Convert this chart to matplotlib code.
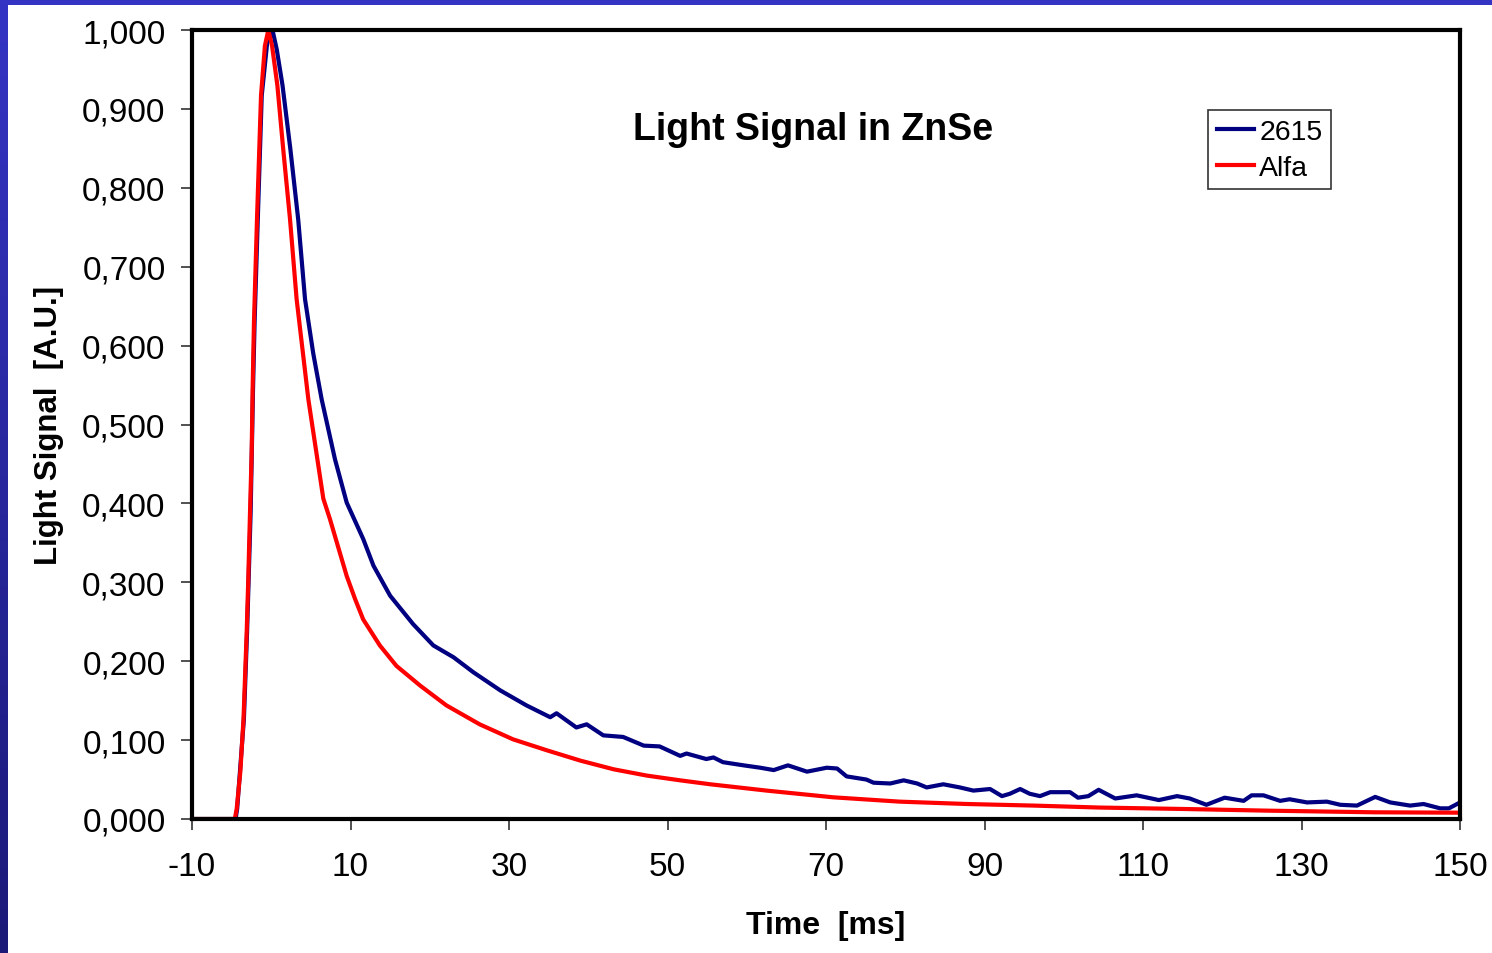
import numpy as np
import matplotlib
matplotlib.use("Agg")
import matplotlib.pyplot as plt
from matplotlib.patches import Rectangle
from matplotlib.ticker import FuncFormatter

plt.rcParams['font.family'] = ['Liberation Sans', 'DejaVu Sans']
plt.rcParams['axes.unicode_minus'] = False

# Alfa (red)
alfa_t = [-10, -4.6, -4.36, -3.9, -3.5, -3.1, -2.9, -2.68, -2.47, -2.35, -2.18,
          -1.8, -1.29, -0.8, -0.37, 0.1, 0.77, 1.5, 2.37, 3.2, 4.68, 6.57, 7.41,
          9.52, 10.57, 11.6, 13.7, 15.8, 18.8, 22.1, 26.3, 30.5, 34.8, 39.0,
          43.2, 47.4, 51.6, 55.4, 62.5, 70.9, 79.3, 87.8, 96.2, 104.6, 115.1,
          125.6, 139.1, 150]
alfa_v = [0, 0, 0.013, 0.06, 0.127, 0.237, 0.304, 0.389, 0.465, 0.545, 0.63,
          0.76, 0.917, 0.98, 1.0, 0.98, 0.93, 0.85, 0.76, 0.659, 0.532, 0.406, 0.38,
          0.308, 0.279, 0.253, 0.220, 0.194, 0.169, 0.144, 0.120, 0.101, 0.087, 0.074,
          0.063, 0.055, 0.049, 0.044, 0.036, 0.0275, 0.022, 0.019, 0.017, 0.0145, 0.0127,
          0.0106, 0.0085, 0.008]

# 2615 (blue)
s2615_t = [-10, -4.5, -4.3, -3.45, -3.05, -2.6, -2.3, -2.1, -1.7, -1.2, -0.5,
           0.16, 0.7, 1.42, 2.4, 3.4, 4.26, 5.3, 6.36, 8.04, 9.52, 11.6, 12.9,
           15.0, 17.9, 20.45, 23.0, 25.5, 28.9, 32.2, 35.2, 36.0, 38.5, 39.8,
           41.9, 44.4, 47.0, 49.0, 51.6, 52.4, 54.9, 55.8, 57.0, 59.6, 61.7,
           63.4, 65.2, 67.6, 70.1, 71.4, 72.6, 75.1, 76.0, 78.1, 79.8, 81.5,
           82.7, 84.8, 86.9, 88.6, 90.7, 92.2, 93.2, 94.5, 95.7, 97.0, 98.3,
           100.8, 101.8, 103.1, 104.4, 106.5, 109.2, 112.0, 114.3, 115.9, 118.0,
           120.3, 122.7, 123.7, 125.2, 127.3, 128.5, 130.7, 133.2, 134.9, 137.0,
           139.3, 141.2, 143.7, 145.4, 147.5, 148.6, 150]
s2615_v = [0, 0, 0.013, 0.127, 0.237, 0.389, 0.545, 0.63, 0.76, 0.917, 0.985,
           1.0, 0.975, 0.93, 0.85, 0.76, 0.659, 0.59, 0.532, 0.456, 0.401, 0.355, 0.321,
           0.283, 0.247, 0.220, 0.205, 0.186, 0.163, 0.144, 0.129, 0.134, 0.116, 0.120,
           0.106, 0.104, 0.093, 0.092, 0.080, 0.083, 0.076, 0.078, 0.072, 0.068, 0.065,
           0.062, 0.068, 0.060, 0.065, 0.064, 0.054, 0.050, 0.046, 0.045, 0.049, 0.045,
           0.040, 0.044, 0.040, 0.036, 0.038, 0.029, 0.032, 0.038, 0.032, 0.029, 0.034,
           0.034, 0.027, 0.029, 0.037, 0.026, 0.030, 0.024, 0.029, 0.026, 0.018,
           0.027, 0.023, 0.030, 0.030, 0.023, 0.025, 0.021, 0.022, 0.018, 0.017,
           0.028, 0.021, 0.017, 0.019, 0.0135, 0.0135, 0.021]

x_ticks = [-10, 10, 30, 50, 70, 90, 110, 130, 150]
y_ticks = [0.0, 0.1, 0.2, 0.3, 0.4, 0.5, 0.6, 0.7, 0.8, 0.9, 1.0]

W, H = 1492, 954
fig = plt.figure(figsize=(W / 100, H / 100), dpi=100)
fig.patch.set_facecolor('white')

# slide frame: blue strip on top and a darkening strip on the left
bg = fig.add_axes([0, 0, 1, 1], zorder=-5)
bg.set_xlim(0, W)
bg.set_ylim(H, 0)
bg.axis('off')
grad = np.linspace(0, 1, 200).reshape(-1, 1)
cmap = matplotlib.colors.LinearSegmentedColormap.from_list('strip', ['#3434c4', '#1c1a78'])
bg.imshow(grad, cmap=cmap, extent=[0, 8, H, 0], aspect='auto')
bg.add_patch(Rectangle((0, 0), W, 6, color='#3434c4', lw=0))

ax = fig.add_axes([192 / W, 1 - 820 / H, (1460 - 192) / W, (820 - 31) / H])
ax.plot(s2615_t, s2615_v, color='#000080', lw=3, label='2615', solid_joinstyle='round')
ax.plot(alfa_t, alfa_v, color='#ff0000', lw=3, label='Alfa', solid_joinstyle='round')

ax.set_xlim(-10, 150)
ax.set_ylim(0, 1)
ax.set_xticks(x_ticks)
ax.set_yticks(y_ticks)
ax.yaxis.set_major_formatter(FuncFormatter(lambda v, p: f"{v:.3f}".replace('.', ',')))
ax.tick_params(axis='both', direction='out', length=8, width=1.2, color='#333333',
               labelsize=24)
ax.tick_params(axis='y', pad=11)
ax.tick_params(axis='x', pad=15)
for s in ax.spines.values():
    s.set_linewidth(3)
    s.set_color('black')

ax.set_xlabel('Time  [ms]', fontsize=23, fontweight='bold', labelpad=20)
ax.set_ylabel('Light Signal  [A.U.]', fontsize=22.5, fontweight='bold', labelpad=13)
ax.text(0.49, 0.875, 'Light Signal in ZnSe', transform=ax.transAxes, ha='center',
        va='center', fontsize=27, fontweight='bold')

leg = ax.legend(loc='upper left', bbox_to_anchor=(1208 / W, 1 - 111 / H),
                bbox_transform=fig.transFigure, fontsize=20.5, frameon=True,
                fancybox=False, edgecolor='#333333', framealpha=1,
                handlelength=1.3, handletextpad=0.2, borderpad=0.3,
                labelspacing=0.36, borderaxespad=0)
leg.get_frame().set_linewidth(1.2)

fig.savefig('out.png', dpi=100)
